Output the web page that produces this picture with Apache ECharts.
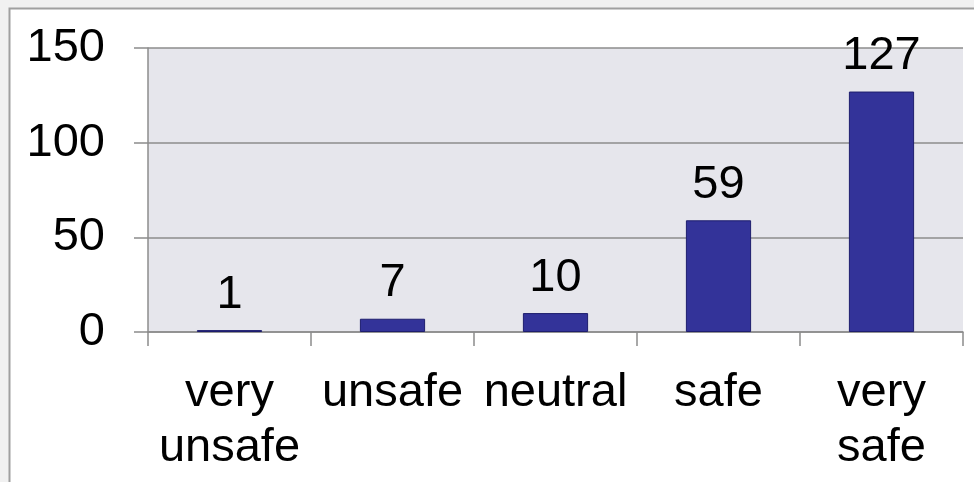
<!DOCTYPE html>
<html>
<head>
<meta charset="utf-8">
<script src="https://cdn.jsdelivr.net/npm/echarts@6/dist/echarts.min.js"></script>
<style>
html,body{margin:0;padding:0;background:#f1f1f1;}
#c{width:974px;height:482px;}
</style>
</head>
<body>
<div id="c"></div>
<script>
const categories = ['very\nunsafe', 'unsafe', 'neutral', 'safe', 'very\nsafe'];
const values = [1, 7, 10, 59, 127];
const yTicks = { min: 0, max: 150, interval: 50 };

const chart = echarts.init(document.getElementById('c'), null, { renderer: 'canvas' });
const font = '"Liberation Sans", Arial, sans-serif';
chart.setOption({
  animation: false,
  backgroundColor: '#f1f1f1',
  graphic: [{
    type: 'rect', z: -10, silent: true,
    shape: { x: 9.5, y: 8.5, width: 980, height: 490 },
    style: { fill: '#ffffff', stroke: '#a0a0a0', lineWidth: 2 }
  }],
  grid: { left: 148, right: 11, top: 48, bottom: 150, show: true, backgroundColor: '#e6e6ec', borderWidth: 0 },
  xAxis: {
    type: 'category',
    data: categories,
    axisLine: { show: true, lineStyle: { color: '#8c8c8c', width: 1.5 } },
    axisTick: { show: true, length: 14, alignWithLabel: false, lineStyle: { color: '#8c8c8c', width: 1.5 } },
    axisLabel: { color: '#000', fontSize: 47, fontFamily: font, margin: 34, lineHeight: 55, interval: 0 }
  },
  yAxis: {
    type: 'value',
    min: yTicks.min, max: yTicks.max, interval: yTicks.interval,
    axisLine: { show: true, lineStyle: { color: '#8c8c8c', width: 1.5 } },
    axisTick: { show: true, length: 14, lineStyle: { color: '#8c8c8c', width: 1.5 } },
    splitLine: { show: true, lineStyle: { color: '#8c8c8c', width: 1.5 } },
    axisLabel: { color: '#000', fontSize: 47, fontFamily: font, margin: 43 }
  },
  series: [{
    type: 'bar',
    data: values,
    barWidth: '40%',
    itemStyle: { color: '#333399', borderColor: '#1e1e6e', borderWidth: 1 },
    label: { show: true, position: 'top', distance: 12, color: '#000', fontSize: 47, fontFamily: font }
  }]
});
</script>
</body>
</html>
